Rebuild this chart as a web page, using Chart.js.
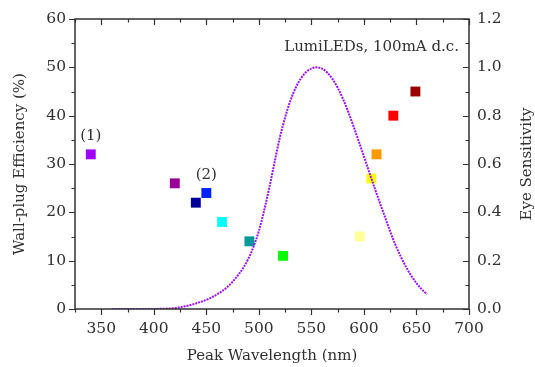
<!DOCTYPE html>
<html>
<head>
<meta charset="utf-8">
<script src="https://cdn.jsdelivr.net/npm/chart.js@4.4.1/dist/chart.umd.min.js"></script>
<style>
  html, body { margin: 0; padding: 0; background: #fff; }
  #wrap { width: 535px; height: 367px; position: relative; }
</style>
</head>
<body>
<div id="wrap"><canvas id="chart"></canvas></div>
<script>
// LED 峰值波长 vs 电光效率
const ledWavelength = [340, 420, 440, 450, 465, 491, 523, 596, 607, 612, 628, 649];
const ledEfficiency = [32, 26, 22, 24, 18, 14, 11, 15, 27, 32, 40, 45];
const ledColors = ["#a000ff", "#990099", "#000099", "#0022ff", "#00ffff", "#009999",
                   "#00ff00", "#ffff99", "#ffff00", "#ff9900", "#ff0000", "#990000"];

// 人眼视觉灵敏度 V(λ)
const eyeWavelength = [360, 365, 370, 375, 380, 385, 390, 395, 400, 405, 410, 415, 420, 425,
  430, 435, 440, 445, 450, 455, 460, 465, 470, 475, 480, 485, 490, 495, 500, 505, 510, 515,
  520, 525, 530, 535, 540, 545, 550, 555, 560, 565, 570, 575, 580, 585, 590, 595, 600, 605,
  610, 615, 620, 625, 630, 635, 640, 645, 650, 655, 660];
const eyeSensitivity = [0.0000039, 0.000007, 0.000012, 0.0000217, 0.000039, 0.000064, 0.00012,
  0.000217, 0.000396, 0.00064, 0.00121, 0.00218, 0.004, 0.0073, 0.0116, 0.01684, 0.023, 0.0298,
  0.038, 0.048, 0.06, 0.0739, 0.09098, 0.1126, 0.13902, 0.1693, 0.20802, 0.2586, 0.323, 0.4073,
  0.503, 0.6082, 0.71, 0.7932, 0.862, 0.91485, 0.954, 0.9803, 0.99495, 1.0, 0.995, 0.9786, 0.952,
  0.9154, 0.87, 0.8163, 0.757, 0.6949, 0.631, 0.5668, 0.503, 0.4412, 0.381, 0.321, 0.265, 0.217,
  0.175, 0.1382, 0.107, 0.0816, 0.061];

const xTicks = [350, 400, 450, 500, 550, 600, 650, 700];
const yTicks = [0, 10, 20, 30, 40, 50, 60];
const y2Ticks = [0, 0.2, 0.4, 0.6, 0.8, 1.0, 1.2];

const notes = [
  { text: "(1)", x: 340, y: 35.8 },
  { text: "(2)", x: 450, y: 27.7 }
];

const FONT = "'DejaVu Serif', 'Liberation Serif', serif";
const INK = "#303030";

const frame = {
  id: "frame",
  afterDraw(chart) {
    const { ctx, chartArea: a, scales } = chart;
    const sx = scales.x, sy = scales.y, sy2 = scales.y2;
    ctx.save();
    ctx.strokeStyle = INK;
    ctx.lineWidth = 1.5;
    ctx.strokeRect(a.left, a.top, a.right - a.left, a.bottom - a.top);

    ctx.lineWidth = 1.2;
    ctx.beginPath();
    // 横轴：底部朝外，顶部朝内
    for (let v = 325; v <= 700; v += 25) {
      const px = Math.round(sx.getPixelForValue(v)) + 0.5;
      const len = v % 50 === 0 ? 6 : 3.5;
      ctx.moveTo(px, a.bottom); ctx.lineTo(px, a.bottom + len);
      ctx.moveTo(px, a.top); ctx.lineTo(px, a.top + len);
    }
    // 左轴朝外
    for (let v = 0; v <= 60; v += 5) {
      const py = Math.round(sy.getPixelForValue(v)) + 0.5;
      const len = v % 10 === 0 ? 6 : 3.5;
      ctx.moveTo(a.left, py); ctx.lineTo(a.left - len, py);
    }
    // 右轴朝内
    for (let i = 0; i <= 12; i++) {
      const py = Math.round(sy2.getPixelForValue(i / 10)) + 0.5;
      const len = i % 2 === 0 ? 6 : 3.5;
      ctx.moveTo(a.right, py); ctx.lineTo(a.right - len, py);
    }
    ctx.stroke();

    ctx.fillStyle = INK;
    ctx.font = "15px " + FONT;
    ctx.textAlign = "center";
    ctx.textBaseline = "middle";
    notes.forEach((n) => {
      ctx.fillText(n.text, sx.getPixelForValue(n.x), sy.getPixelForValue(n.y));
    });

    ctx.textAlign = "right";
    ctx.fillText("LumiLEDs, 100mA d.c.", a.right - 10, a.top + 28);

    ctx.textAlign = "center";
    const midX = (a.left + a.right) / 2, midY = (a.top + a.bottom) / 2;
    ctx.fillText("Peak Wavelength (nm)", midX, 356);

    ctx.translate(20, midY);
    ctx.rotate(-Math.PI / 2);
    ctx.fillText("Wall-plug Efficiency (%)", 0, 0);
    ctx.restore();

    ctx.save();
    ctx.fillStyle = INK;
    ctx.font = "15px " + FONT;
    ctx.textAlign = "center";
    ctx.textBaseline = "middle";
    ctx.translate(527, midY);
    ctx.rotate(-Math.PI / 2);
    ctx.fillText("Eye Sensitivity", 0, 0);
    ctx.restore();
  }
};

const tickFont = { family: FONT, size: 15.5 };

new Chart(document.getElementById("chart"), {
  data: {
    datasets: [
      {
        type: "line",
        label: "Eye Sensitivity",
        data: eyeWavelength.map((w, i) => ({ x: w, y: eyeSensitivity[i] })),
        yAxisID: "y2",
        borderColor: "#9b10ff",
        borderWidth: 2,
        borderDash: [2, 1],
        pointRadius: 0,
        cubicInterpolationMode: "monotone",
        fill: false,
        order: 0
      },
      {
        type: "scatter",
        label: "LEDs",
        data: ledWavelength.map((w, i) => ({ x: w, y: ledEfficiency[i] })),
        yAxisID: "y",
        pointStyle: "rect",
        pointRadius: 7,
        pointHoverRadius: 7,
        pointBorderWidth: 0,
        pointBackgroundColor: ledColors,
        order: 1
      }
    ]
  },
  options: {
    responsive: true,
    maintainAspectRatio: false,
    animation: false,
    layout: { padding: { top: 19, left: 0, right: 0, bottom: 0 } },
    plugins: { legend: { display: false }, tooltip: { enabled: false } },
    scales: {
      x: {
        type: "linear",
        min: 325, max: 700,
        grid: { display: false, drawTicks: false },
        border: { display: false },
        afterBuildTicks: (s) => { s.ticks = xTicks.map((v) => ({ value: v })); },
        afterFit: (s) => { s.height = 58; },
        ticks: { font: tickFont, color: INK, padding: 11, maxRotation: 0 }
      },
      y: {
        type: "linear",
        position: "left",
        min: 0, max: 60,
        grid: { display: false, drawTicks: false },
        border: { display: false },
        afterBuildTicks: (s) => { s.ticks = yTicks.map((v) => ({ value: v })); },
        afterFit: (s) => { s.width = 75; },
        ticks: { font: tickFont, color: INK, padding: 9 }
      },
      y2: {
        type: "linear",
        position: "right",
        min: 0, max: 1.2,
        grid: { display: false, drawTicks: false },
        border: { display: false },
        afterBuildTicks: (s) => { s.ticks = y2Ticks.map((v) => ({ value: v })); },
        afterFit: (s) => { s.width = 66; },
        ticks: { font: tickFont, color: INK, padding: 8, callback: (v) => v.toFixed(1) }
      }
    }
  },
  plugins: [frame]
});
</script>
</body>
</html>
